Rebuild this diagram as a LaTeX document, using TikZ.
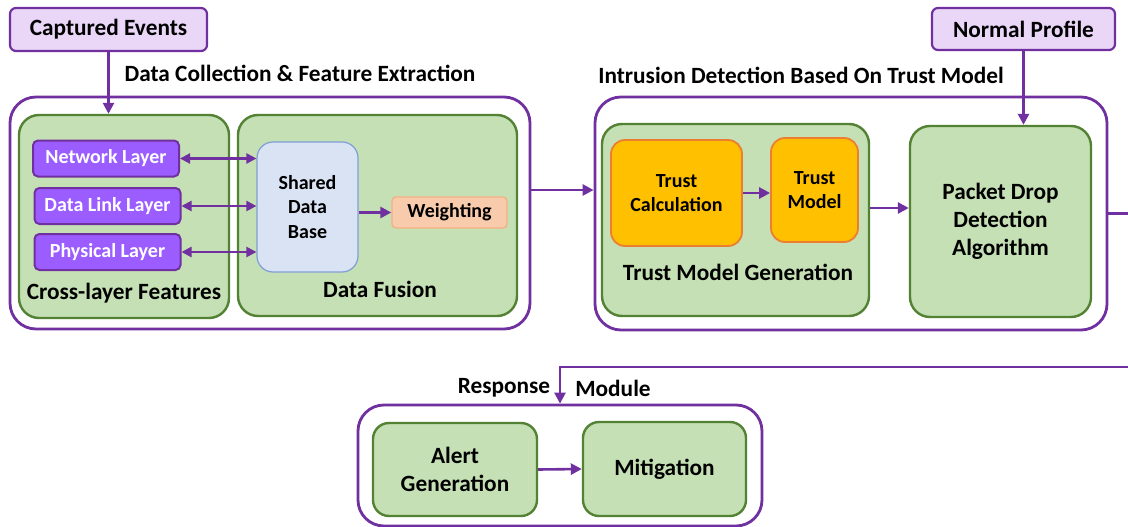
\documentclass[tikz,border=0pt]{standalone}
\usepackage{fontspec}
\setmainfont{Carlito}
\usetikzlibrary{arrows.meta,positioning}

\definecolor{purpline}{HTML}{7030A0}
\definecolor{lilac}{HTML}{EAD6F7}
\definecolor{violetfill}{HTML}{9B5DFF}
\definecolor{stagefill}{HTML}{C5E0B4}
\definecolor{stageline}{HTML}{548235}
\definecolor{dbfill}{HTML}{DAE3F3}
\definecolor{dbline}{HTML}{7F9FD6}
\definecolor{peach}{HTML}{F8CBAD}
\definecolor{peachline}{HTML}{F4B183}
\definecolor{amber}{HTML}{FFC000}
\definecolor{amberline}{HTML}{ED7D31}

\newcommand{\lblfont}{\fontsize{23.3}{28}\selectfont\bfseries}
\newcommand{\boxfont}{\fontsize{20}{24.5}\selectfont\bfseries}

\tikzset{
  module/.style={draw=purpline,line width=2.8pt,fill=white,rounded corners=26pt,inner sep=0pt},
  stage/.style={draw=stageline,fill=stagefill,line width=2.4pt,rounded corners=20pt,inner sep=0pt,align=center,font=\lblfont},
  source/.style={draw=purpline,fill=lilac,line width=2.2pt,rounded corners=6pt,inner sep=0pt,font=\lblfont},
  layer/.style={draw=purpline,fill=violetfill,line width=2pt,rounded corners=5pt,inner sep=0pt,text=white,font=\boxfont,minimum width=146pt,minimum height=36pt},
  trust/.style={draw=amberline,fill=amber,line width=1.8pt,rounded corners=14pt,inner sep=0pt,align=center,font=\boxfont},
  caption/.style={inner sep=0pt,font=\lblfont},
  flow/.style={draw=purpline,line width=2.6pt,-{Triangle[length=11pt,width=11pt]}},
  both/.style={draw=purpline,line width=2.2pt,{Triangle[length=10pt,width=10pt]}-{Triangle[length=10pt,width=10pt]}}
}

\begin{document}
\begin{tikzpicture}[x=1pt,y=-1pt]
  \useasboundingbox (0,0) rectangle (1128,527);

  % inputs
  \node (captured) [source,minimum width=197pt,minimum height=43pt] at (108.5,29.5) {Captured Events};
  \node (normal)   [source,minimum width=183pt,minimum height=42pt] at (1023.5,29) {Normal Profile};

  % data collection & feature extraction
  \node (dcfe)   [module,minimum width=520pt,minimum height=232pt] at (270,213) {};
  \node (dcfetitle) [caption] at (300,73) {Data Collection \& Feature Extraction};
  \node (cross)  [stage,minimum width=210pt,minimum height=203pt] at (124,216.5) {};
  \node (fusion) [stage,minimum width=279pt,minimum height=201pt] at (377.5,215.5) {};
  \node (network)  [layer] at (106,158.5) {Network Layer};
  \node (datalink) [layer] at (107.5,206) {Data Link Layer};
  \node (physical) [layer] at (107.5,252) {Physical Layer};
  \node (crosslbl)  [caption] at (124,293) {Cross-layer Features};
  \node (shareddb) [draw=dbline,fill=dbfill,line width=1.2pt,rounded corners=16pt,inner sep=0pt,
                    align=center,font=\boxfont,minimum width=101pt,minimum height=130pt] at (307.5,207) {Shared\\Data\\Base};
  \node (weighting) [draw=peachline,fill=peach,line width=1.4pt,rounded corners=4pt,inner sep=0pt,
                     font=\boxfont,minimum width=115pt,minimum height=31pt] at (449.5,212.5) {Weighting};
  \node (fusionlbl) [caption] at (380,289) {Data Fusion};

  % intrusion detection based on trust model
  \node (idtm)  [module,minimum width=512pt,minimum height=233pt] at (851,213.5) {};
  \node (idtmtitle) [caption] at (801,75) {Intrusion Detection Based On Trust Model};
  \node (tmgen) [stage,minimum width=267pt,minimum height=192pt] at (735.5,220) {};
  \node (trustcalc)  [trust,minimum width=131pt,minimum height=106pt] at (676.5,193) {Trust\\Calculation};
  \node (trustmodel) [trust,minimum width=87pt,minimum height=104pt] at (814.5,190) {Trust\\Model};
  \node (tmgenlbl) [caption] at (738,272) {Trust Model Generation};
  \node (packetdrop) [stage,minimum width=181pt,minimum height=191pt] at (1000.5,221.5) {Packet Drop\\Detection\\Algorithm};

  % response module
  \node (response) [module,minimum width=404pt,minimum height=121pt] at (560,465.5) {};
  \node (resplbl)  [caption] at (504,388) {Response};
  \node (modlbl)   [caption] at (613,388) {Module};
  \node (alert)      [stage,rounded corners=16pt,minimum width=164pt,minimum height=93pt] at (455,469.5) {Alert\\Generation};
  \node (mitigation) [stage,rounded corners=16pt,minimum width=163pt,minimum height=94pt] at (664.5,469) {Mitigation};

  \coordinate (bend) at (1150,367);

  \draw[flow] (captured.south) -- (captured.south |- cross.north);
  \draw[both] (network.east)  -- (network.east -| shareddb.west);
  \draw[both] (datalink.east) -- (datalink.east -| shareddb.west);
  \draw[both] (physical.east) -- (physical.east -| shareddb.west);
  \draw[flow] (shareddb.east |- weighting.west) -- (weighting.west);
  \draw[flow] ([yshift=23pt]dcfe.east) -- ([yshift=23pt]dcfe.east -| idtm.west);
  \draw[flow] (trustcalc.east) -- (trustcalc.east -| trustmodel.west);
  \draw[flow] ([yshift=12pt]tmgen.east) -- ([yshift=12pt]tmgen.east -| packetdrop.west);
  \draw[flow] (normal.south) -- (normal.south |- packetdrop.north);
  \draw[flow] (idtm.east) -| (bend) -| (response.north);
  \draw[flow] (alert.east) -- (mitigation.west);
\end{tikzpicture}
\end{document}
